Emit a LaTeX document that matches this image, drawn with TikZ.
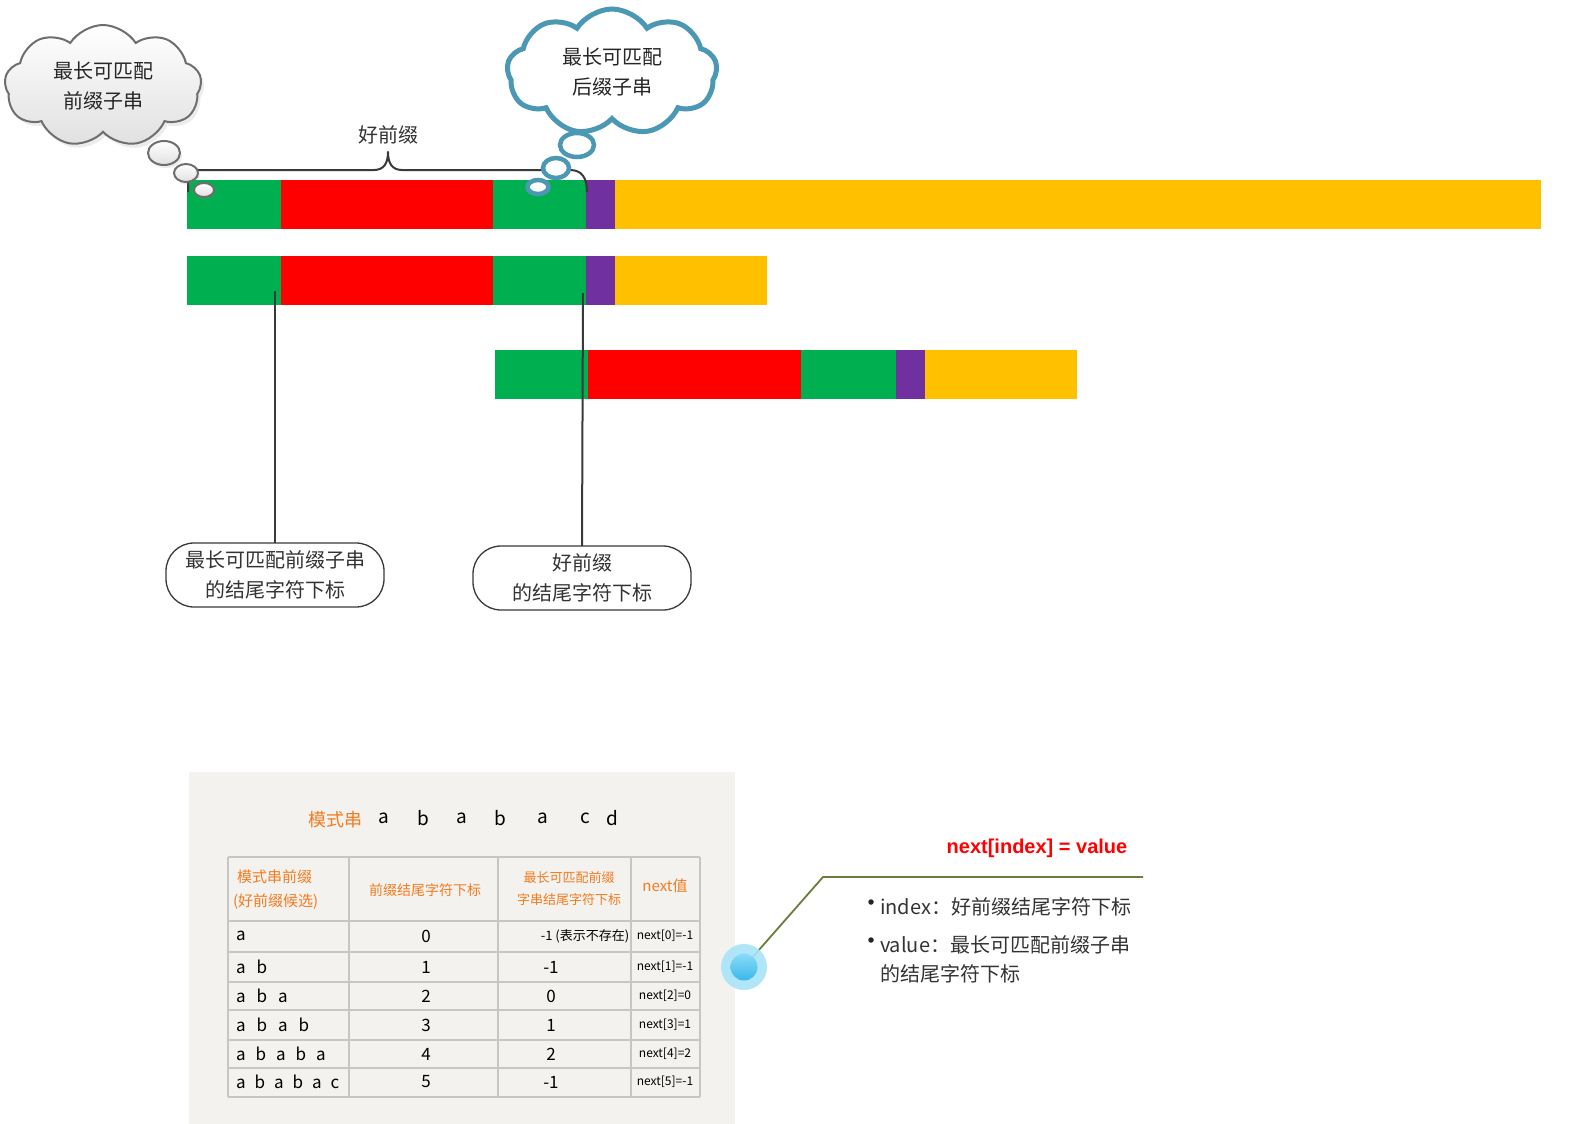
\documentclass[tikz,border=0pt]{standalone}
\usepackage{fontspec}
\setmainfont{Noto Sans CJK SC}
\newfontfamily\arialfont{Liberation Sans}
\usetikzlibrary{shapes.symbols,shapes.geometric,shadows}
\definecolor{barGreen}{HTML}{00B050}
\definecolor{barRed}{HTML}{FF0000}
\definecolor{barPurple}{HTML}{7030A0}
\definecolor{barYellow}{HTML}{FFC000}
\definecolor{cloudBlue}{HTML}{4A98B3}
\definecolor{cloudGrayLine}{HTML}{6E6E6E}
\definecolor{lineDark}{HTML}{3A3A3A}
\definecolor{textGray}{HTML}{333333}
\definecolor{tableBg}{HTML}{F3F2EE}
\definecolor{gridGray}{HTML}{C6C6C2}
\definecolor{handOrange}{HTML}{F47B20}
\definecolor{oliveLine}{HTML}{6B7D3A}
\definecolor{dotOuter}{HTML}{A8E4F8}
\definecolor{dotInnerA}{HTML}{8ADAF7}
\definecolor{dotInnerB}{HTML}{35B6EC}
\begin{document}
\begin{tikzpicture}[x=1pt,y=-1pt,
  every node/.style={inner sep=0pt, outer sep=0pt},
  txt/.style={text=textGray, font=\fontsize{20}{30}\selectfont, align=center},
  cloudgray/.style={cloud, cloud puffs=9, cloud puff arc=115, cloud ignores aspect,
    draw=cloudGrayLine, line width=2pt, top color=white, bottom color=black!12,
    drop shadow={opacity=0.15, shadow xshift=3pt, shadow yshift=-4pt}},
  bubgray/.style={ellipse, draw=cloudGrayLine, line width=2pt, top color=white, bottom color=black!12,
    drop shadow={opacity=0.15, shadow xshift=2pt, shadow yshift=-3pt}},
  cloudblue/.style={cloud, cloud puffs=9, cloud puff arc=115, cloud ignores aspect,
    draw=cloudBlue, line width=5pt, fill=white},
  bubblue/.style={ellipse, draw=cloudBlue, line width=4.5pt, fill=white},
  endbox/.style={txt, draw=lineDark, line width=1.3pt, rounded corners=28pt,
    minimum width=218pt, minimum height=64pt},
  connector/.style={draw=lineDark, line width=2pt},
  grid line/.style={draw=gridGray, line width=1.6pt},
  hand/.style={text=black, font=\fontsize{17}{20}\selectfont},
  handor/.style={text=handOrange, font=\fontsize{15}{24}\selectfont, align=center},
  nextcell/.style={text=black, font=\fontsize{12}{14}\selectfont},
  bullettxt/.style={text=textGray, font=\fontsize{20}{29}\selectfont, align=left, anchor=base west},
  bulletdot/.style={circle, fill=black!85, minimum size=5.5pt},
]
\useasboundingbox (0,0) rectangle (1588,1124);
\fill[white] (0,0) rectangle (1588,1124);

% ---------- bars ----------
\fill[barGreen]  (187,180) rectangle (281,229);
\fill[barRed]    (281,180) rectangle (493,229);
\fill[barGreen]  (493,180) rectangle (586,229);
\fill[barPurple] (586,180) rectangle (615,229);
\fill[barYellow] (615,180) rectangle (1541,229);

\fill[barGreen]  (187,256) rectangle (281,305);
\fill[barRed]    (281,256) rectangle (493,305);
\fill[barGreen]  (493,256) rectangle (586,305);
\fill[barPurple] (586,256) rectangle (615,305);
\fill[barYellow] (615,256) rectangle (767,305);

\fill[barGreen]  (495,350) rectangle (588,399);
\fill[barRed]    (588,350) rectangle (801,399);
\fill[barGreen]  (801,350) rectangle (896,399);
\fill[barPurple] (896,350) rectangle (925,399);
\fill[barYellow] (925,350) rectangle (1077,399);

% ---------- brace ----------
\draw[lineDark, line width=2pt, line join=round]
  (188,192) -- (188,184) .. controls (188,174) and (192,170) .. (202,170)
  -- (374,170) .. controls (384,170) and (388,163) .. (388,152)
  .. controls (388,163) and (392,170) .. (402,170)
  -- (570,170) .. controls (582,170) and (587,178) .. (587,192);
\node[txt] (goodlabel) at (388,135) {好前缀};

% ---------- connectors to bottom boxes ----------
\coordinate (t1) at (275,291);
\coordinate (t2) at (583,293);
\node[endbox] (box1) at (275,575) {最长可匹配前缀子串\\的结尾字符下标};
\node[endbox] (box2) at (582,578) {好前缀\\的结尾字符下标};
\draw[connector] (t1) -- (box1.north);
\draw[connector] (t2) -- (box2.north);

% ---------- gray cloud ----------
\node[cloudgray, minimum width=197pt, minimum height=122pt, text=black!85,
  font=\fontsize{20}{30}\selectfont, align=center] (cloudA) at (103,86) {最长可匹配\\前缀子串};
\node[bubgray, minimum width=32pt, minimum height=24pt] (ga1) at (164,153) {};
\node[bubgray, minimum width=24pt, minimum height=18pt] (ga2) at (186,173) {};
\node[bubgray, minimum width=20pt, minimum height=14pt] (ga3) at (204,190) {};

% ---------- blue cloud ----------
\node[cloudblue, minimum width=210pt, minimum height=126pt, text=black!85,
  font=\fontsize{20}{30}\selectfont, align=center] (cloudB) at (612,72) {最长可匹配\\后缀子串};
\node[bubblue, minimum width=34pt, minimum height=24pt] (gb1) at (577,145) {};
\node[bubblue, minimum width=26pt, minimum height=20pt] (gb2) at (556,168) {};
\node[bubblue, minimum width=21pt, minimum height=14pt] (gb3) at (538,187) {};

% ---------- table picture ----------
\fill[tableBg] (189,772) rectangle (735,1124);
\node[handor, font=\fontsize{18}{20}\selectfont] (ttl) at (335,820) {模式串};
\foreach \x/\l [count=\i] in {384/a,423/b,462/a,500/b,543/a,585/c,612/d}
  \node[hand, font=\fontsize{19}{22}\selectfont] (p\i) at (\x,818) {\l};

\foreach \x in {228,349,498,631,700}
  \draw[grid line] (\x,857) -- (\x,1097);
\foreach \y in {857,921,952,982,1010,1040,1068,1097}
  \draw[grid line] (228,\y) -- (700,\y);

\node[handor, anchor=west, align=left] (h1) at (233,890) {\hspace*{4pt}模式串前缀\\(好前缀候选)};
\node[handor, font=\fontsize{14}{20}\selectfont] (h2) at (425,890) {前缀结尾字符下标};
\node[handor, font=\fontsize{13}{22}\selectfont] (h3) at (569,889) {最长可匹配前缀\\字串结尾字符下标};
\node[handor] (h4) at (665,886) {next值};

\node[hand, anchor=west] (r1c1) at (236,936) {a};
\node[hand, anchor=west] (r2c1) at (236,967) {a\hspace{11pt}b};
\node[hand, anchor=west] (r3c1) at (236,996) {a\hspace{11pt}b\hspace{11pt}a};
\node[hand, anchor=west] (r4c1) at (236,1025) {a\hspace{11pt}b\hspace{11pt}a\hspace{11pt}b};
\node[hand, anchor=west] (r5c1) at (236,1054) {a\hspace{10pt}b\hspace{10pt}a\hspace{10pt}b\hspace{10pt}a};
\node[hand, anchor=west] (r6c1) at (236,1082) {a\hspace{9pt}b\hspace{9pt}a\hspace{9pt}b\hspace{9pt}a\hspace{9pt}c};

\foreach \y/\v [count=\i] in {936/0,967/1,996/2,1025/3,1054/4,1082/5}
  \node[hand] (r\i c2) at (426,\y) {\v};

\node[hand, font=\fontsize{13}{16}\selectfont] (r1c3) at (585,936) {-1 (表示不存在)};
\foreach \y/\v [count=\i from 2] in {967/-1,996/0,1025/1,1054/2,1082/-1}
  \node[hand] (r\i c3) at (551,\y) {\v};

\foreach \y/\v [count=\i] in {936/{next[0]=-1},967/{next[1]=-1},996/{next[2]=0},1025/{next[3]=1},1054/{next[4]=2},1082/{next[5]=-1}}
  \node[nextcell] (r\i c4) at (665,\y) {\v};

% ---------- callout ----------
\coordinate (bend) at (823,877);
\coordinate (lend) at (1143,877);
\node[circle, minimum size=46pt] (dot) at (744,967) {};
\draw[oliveLine, line width=1.8pt] (dot.center) -- (bend) -- (lend);
\fill[dotOuter, opacity=0.9] (dot.center) circle[radius=23];
\shade[top color=dotInnerA, bottom color=dotInnerB, opacity=0.95] (dot.center) circle[radius=13.5];

\node[text=barRed, font=\arialfont\bfseries\fontsize{20}{24}\selectfont] (formula) at (1037,848) {next[index] = value};

\node[bulletdot] (bul1) at (871,902) {};
\node[bullettxt] (item1) at (880,914) {index：好前缀结尾字符下标};
\node[bulletdot] (bul2) at (871,940) {};
\node[bullettxt] (item2) at (880,981) {value：最长可匹配前缀子串\\的结尾字符下标};
\end{tikzpicture}
\end{document}
